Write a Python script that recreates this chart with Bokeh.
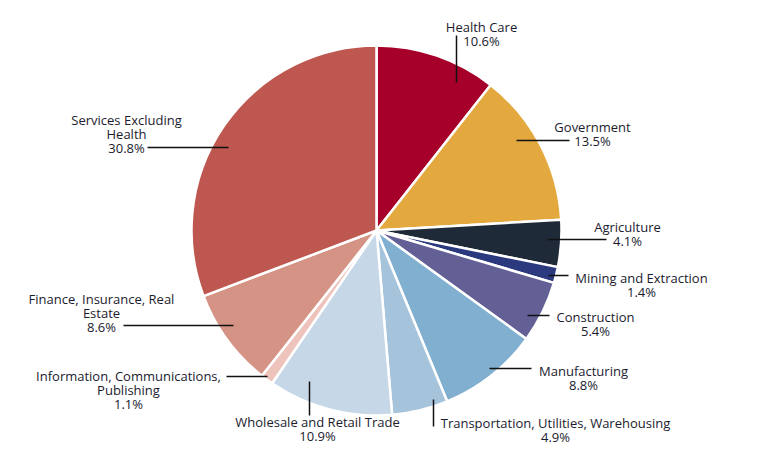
from bokeh.plotting import figure
from bokeh.models import Range1d, ColumnDataSource
from bokeh.core.properties import value
from bokeh.embed import file_html
from bokeh.resources import INLINE
import math

# ---- data ----
sectors = ["Health Care", "Government", "Agriculture", "Mining and Extraction",
           "Construction", "Manufacturing", "Transportation, Utilities, Warehousing",
           "Wholesale and Retail Trade", "Information, Communications,\nPublishing",
           "Finance, Insurance, Real\nEstate", "Services Excluding\nHealth"]
shares = [10.6, 13.5, 4.1, 1.4, 5.4, 8.8, 4.9, 10.9, 1.1, 8.6, 30.8]

# ---- styles ----
colors = ["#A6002A", "#E3A93F", "#1E2A38", "#2B3A7E", "#636096", "#80AFD0",
          "#A6C3DC", "#C6D7E7", "#EDC3BB", "#D49384", "#BE574F"]

# label layout (screen pixels): leader line (x0,y0,x1,y1), text centre x, first line y
layout = [
    ((457, 83, 457, 36), 482, 27),
    ((517, 141, 570, 141), 593, 127),
    ((548, 240, 607, 240), 628, 227),
    ((549, 276, 569, 276), 642, 278),
    ((528, 316, 550, 316), 596, 317),
    ((490, 369, 532, 369), 584, 371),
    ((434, 400, 434, 427), 556, 423),
    ((310, 382, 310, 416), 318, 422),
    ((227, 377, 268, 377), 129, 376),
    ((124, 326, 234, 326), 102, 299),
    ((148, 148, 229, 148), 127, 120),
]

W, H = 748, 455
OFF = 1
CX, CY, R = 377, 231, 185
LINE_H = 14


def sx(x):
    return x - OFF


def sy(y):
    return H + OFF - y


total = sum(shares)
starts, ends = [], []
cum = 0.0
for s in shares:
    starts.append(math.pi / 2 - 2 * math.pi * cum / total)
    cum += s
    ends.append(math.pi / 2 - 2 * math.pi * cum / total)

p = figure(width=W, height=H, output_backend="svg", toolbar_location=None,
           x_range=Range1d(0, W), y_range=Range1d(0, H), min_border=0)
p.axis.visible = False
p.grid.visible = False
p.outline_line_color = None
p.background_fill_color = "white"

src = ColumnDataSource(dict(start=starts, end=ends, color=colors, name=sectors, share=shares))
p.wedge(x=sx(CX), y=sy(CY), radius=R, start_angle="start", end_angle="end",
        direction="clock", fill_color="color", line_color="white", line_width=2.5,
        source=src)

xs0, ys0, xs1, ys1 = [], [], [], []
tx, ty, tt = [], [], []
for name, share, (line, cx, y0) in zip(sectors, shares, layout):
    xs0.append(sx(line[0])); ys0.append(sy(line[1]))
    xs1.append(sx(line[2])); ys1.append(sy(line[3]))
    lines = name.split("\n") + [f"{share:.1f}%"]
    for i, t in enumerate(lines):
        tx.append(sx(cx)); ty.append(sy(y0 + i * LINE_H)); tt.append(t)

p.segment(x0=xs0, y0=ys0, x1=xs1, y1=ys1, line_color="#111111", line_width=1.5)
p.text(x=tx, y=ty, text=tt, text_align="center", text_baseline="middle",
       text_font=value("Open Sans"), text_font_size="13px", text_color="#1b1b2e")

open("out.html", "w").write(file_html(p, INLINE))
